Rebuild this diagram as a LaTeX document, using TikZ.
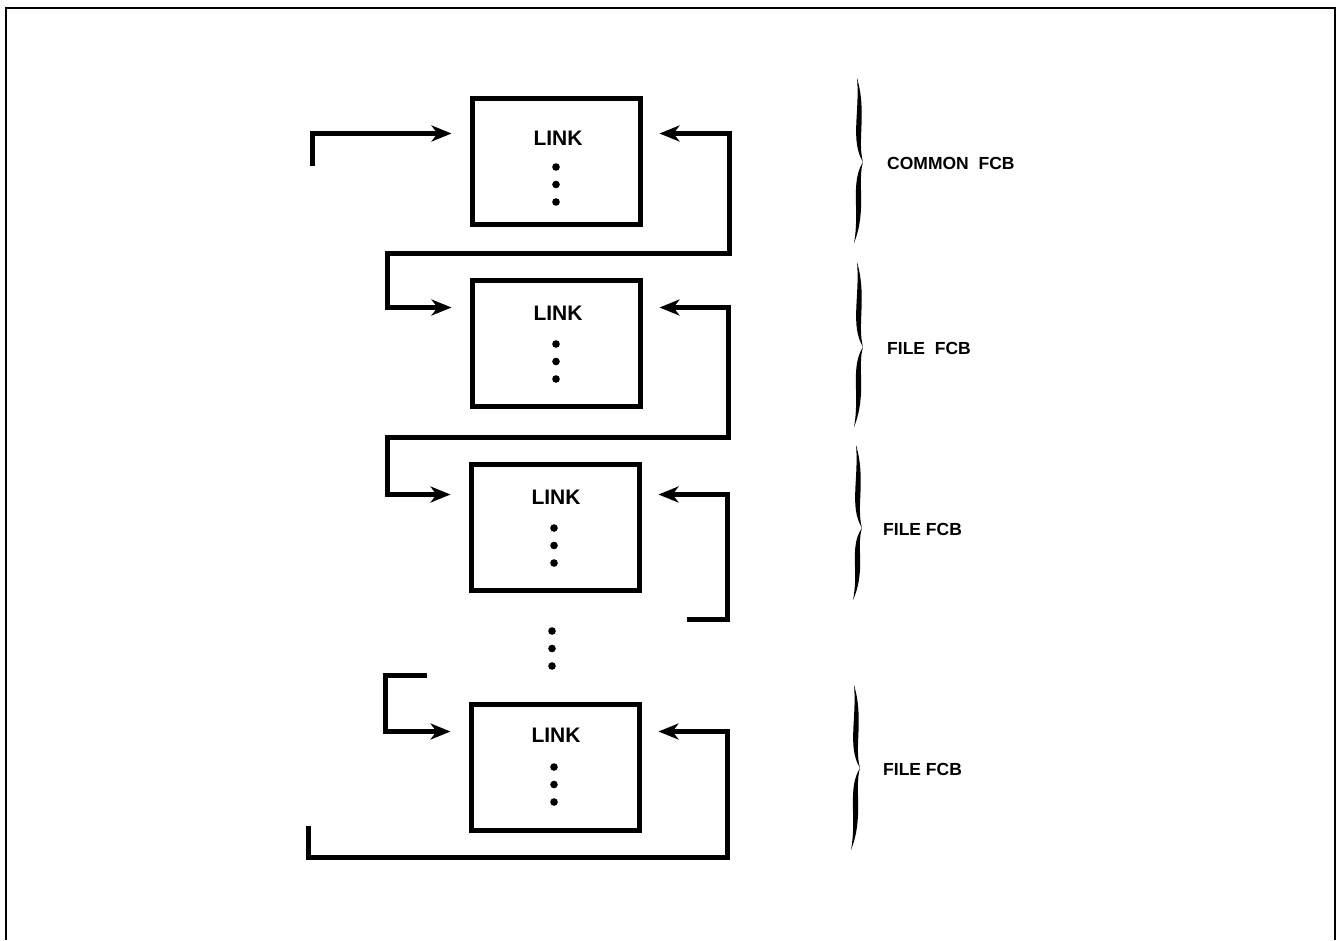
\documentclass[tikz,border=0pt]{standalone}
\usepackage{fontspec}
\setmainfont{Liberation Sans}
\usetikzlibrary{arrows.meta}
\tikzset{
  fcbbox/.style={draw, line width=5pt, minimum width=168pt, minimum height=126pt, inner sep=0pt},
  linktext/.style={font=\fontsize{21}{24}\selectfont\bfseries, inner sep=0pt},
  fcblabel/.style={font=\fontsize{17.5}{20}\selectfont\bfseries, anchor=west, inner sep=0pt},
  conn/.style={line width=5pt},
  arrtip/.tip={Stealth[length=20pt,width=16pt,inset=6pt]},
  tipR/.style={-arrtip, shorten >=18pt},
  tipL/.style={arrtip-, shorten <=17pt},
  tipLR/.style={arrtip-arrtip, shorten <=17pt, shorten >=18pt},
}
\newcommand{\fcbbrace}[4]{% x, top, tip, bot
  \fill (#1-1,#2) .. controls (#1+2,#2+0.4*#3-0.4*#2) and (#1-8,#3-0.25*#3+0.25*#2) .. (#1+5,#3)
     .. controls (#1-8,#3+0.25*#4-0.25*#3) and (#1+2,#4-0.4*#4+0.4*#3) .. (#1-4,#4)
     .. controls (#1+9,#4-0.4*#4+0.4*#3) and (#1-1,#3+0.25*#4-0.25*#3) .. (#1+5,#3)
     .. controls (#1-1,#3-0.25*#3+0.25*#2) and (#1+9,#2+0.4*#3-0.4*#2) .. (#1-1,#2) -- cycle;}
\newcommand{\vdotsat}[2]{% x, y of first dot
  \fill (#1,#2) circle (3.8pt) (#1,#2+17.5) circle (3.8pt) (#1,#2+35) circle (3.8pt);}
\begin{document}
\begin{tikzpicture}[x=1pt,y=-1pt]
\useasboundingbox (0,0) rectangle (1337,940);
% frame
\draw[line width=2pt] (6,940) -- (6,8) -- (1335,8) -- (1335,940);

% boxes
\node[fcbbox] (b1) at (556,161) {};
\node[fcbbox] (b2) at (556,343) {};
\node[fcbbox] (b3) at (555,527) {};
\node[fcbbox] (b4) at (555,767) {};

\node[linktext] (k1) at (558,138) {LINK};
\node[linktext] (k2) at (558,313) {LINK};
\node[linktext] (k3) at (556,497) {LINK};
\node[linktext] (k4) at (556,735) {LINK};

\vdotsat{556}{167}
\vdotsat{556}{344}
\vdotsat{554}{528}
\vdotsat{554}{767}
% dots between boxes
\vdotsat{552}{631}

% connectors
\coordinate (e0) at (312,166);
\draw[conn,tipR] (e0) |- ([yshift=-38pt]b1.north west);

\coordinate (r1) at (729,253);
\coordinate (l1) at (387,253);
\draw[conn,tipLR] ([yshift=-38pt]b1.north east) -| (r1) -- (l1) |- ([yshift=-30pt]b2.north west);

\coordinate (r2) at (728,437);
\coordinate (l2) at (387,437);
\draw[conn,tipLR] ([yshift=-30pt]b2.north east) -| (r2) -- (l2) |- ([yshift=-33pt]b3.north west);

\coordinate (r3) at (727,619);
\coordinate (f3) at (687,619);
\draw[conn,tipL] ([yshift=-33pt]b3.north east) -| (r3) -- (f3);

\coordinate (f4) at (427,675);
\coordinate (l4) at (385,675);
\draw[conn,tipR] (f4) -- (l4) |- ([yshift=-30pt]b4.north west);

\coordinate (r4) at (727,857);
\coordinate (l5) at (308,857);
\coordinate (f5) at (308,826);
\draw[conn,tipL] ([yshift=-30pt]b4.north east) -| (r4) -- (l5) -- (f5);

% braces
\fcbbrace{858}{78}{162}{243}
\fcbbrace{858}{262}{347}{427}
\fcbbrace{857}{445}{528}{600}
\fcbbrace{855}{685}{768}{850}

\node[fcblabel] (lab1) at (887,163) {COMMON\ \ FCB};
\node[fcblabel] (lab2) at (887,348) {FILE\ \ FCB};
\node[fcblabel] (lab3) at (883,529) {FILE FCB};
\node[fcblabel] (lab4) at (883,769) {FILE FCB};
\end{tikzpicture}
\end{document}
